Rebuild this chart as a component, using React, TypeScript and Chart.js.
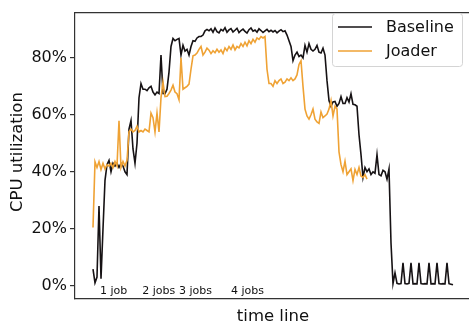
import React, { useEffect, useRef } from "react";
import { Chart, registerables } from "chart.js";
Chart.register(...registerables);

// CPU utilization (%) sampled along the time line
const baseline = [
  5.8, 1.0, 3, 28, 2.4, 20, 37, 42.5, 44, 40,
  43, 42, 43, 41.5, 43, 42, 40, 39, 55, 58,
  48, 43, 50, 66, 71, 69, 69, 68.5, 69.5, 70,
  68, 67, 68, 67.5, 81, 67.5, 67.4, 69, 75, 84,
  86.8, 86, 86.5, 86.8, 81, 84.4, 82.4, 83, 81, 84,
  86, 85.8, 87, 87.5, 87.5, 88, 89.5, 90,
  89.5, 90.2, 89, 90.5, 89.2, 88.8, 90, 89.5, 90.6, 89,
  89.8, 90.3, 89.1, 89.7, 90.4, 88.9, 89.6, 90.1, 89.3, 88.7,
  89.9, 90.5, 89.4, 89.8, 89, 90.2, 89.6, 88.9, 89.5, 90,
  89.2, 89.7, 89.1, 89.6, 88.8, 89.4, 89.9, 89.2, 89.5,
  88, 86, 84,
  79, 81, 82, 80.5, 81, 80, 84.4, 82, 85, 83,
  82.4, 83, 84.4, 82, 81.7, 83.4, 81, 72, 65, 63,
  64.5, 64.7, 63, 64, 66.4, 64, 64, 66, 64.5, 67.4,
  63.7, 63.5, 63, 53, 46, 38, 41.5, 40, 41, 39,
  40, 39.5, 46, 39, 38.6, 40.5, 40, 37.4, 41, 15,
  0.7, 4.5, 0.8, 0.6, 0.7, 8, 0.7, 0.6, 0.8, 8,
  0.6, 0.7, 0.6, 8, 0.7, 0.6, 0.7, 0.6, 8, 0.6,
  0.7, 0.6, 8, 0.7, 0.6, 0.7, 0.6, 8, 0.7, 0.5, 0.3,
];

const joader = [
  20.4, 43.5, 41.5, 43.6, 40.8, 43, 41, 42.5, 42, 43,
  41.5, 43.6, 42, 57.9, 41.5, 43.6, 42, 44, 54, 55,
  54, 54.5, 56, 54, 54.5, 54, 55, 54.5, 54, 60.6,
  59, 54, 60.6, 54, 66, 71.5, 66.4, 66.5, 67.5, 68.7,
  70.4, 68, 67.4, 65.3, 80, 69, 69.5, 70, 70.8, 76,
  80.7, 81, 81.7, 83, 84, 81, 82, 83.4, 82.7,
  81.5, 82.5, 81.8, 83, 82, 82.8, 81.5, 83.5, 82.5, 84,
  83, 84.5, 82.8, 84, 83.5, 85, 84, 85.5, 84.2, 86,
  85, 86.5, 85.5, 87, 86.5, 87.5, 87,
  87.5, 76, 71, 71, 70, 72, 71, 72, 72.6, 71, 71.5, 72.6, 72, 73,
  72, 72.6, 74, 77.7, 79, 70, 62, 59.6, 58.5, 60,
  62, 58.5, 57.5, 57, 61, 59, 59.6, 60.3, 62, 65,
  59.6, 63, 62, 47, 42.5, 40, 43.7, 39, 40, 41,
  36.9, 40.8, 39, 41.5, 38.5, 38, 39, 37.4,
];

const yTicks = [0, 20, 40, 60, 80];
const seriesNames = ["Baseline", "Joader"];
const seriesColors = ["#161214", "#efa234"];
const jobLabels = ["1 job", "2 jobs", "3 jobs", "4 jobs"];
const jobPositions = [3.5, 24.6, 43, 69];
const jobLabelValue = -2.95;

const FONT = "'DejaVu Sans', sans-serif";

export default function App() {
  const ref = useRef<HTMLCanvasElement>(null);

  useEffect(() => {
    if (!ref.current) return;

    const overlay = {
      id: "overlay",
      afterDraw(chart: any) {
        const { ctx, chartArea: a, scales } = chart;
        ctx.save();
        // top spine
        ctx.strokeStyle = "#333";
        ctx.lineWidth = 1.2;
        ctx.beginPath();
        ctx.moveTo(a.left, a.top);
        ctx.lineTo(a.right, a.top);
        ctx.stroke();

        // job annotations
        ctx.fillStyle = "#111";
        ctx.font = `11px ${FONT}`;
        ctx.textAlign = "left";
        ctx.textBaseline = "alphabetic";
        jobLabels.forEach((t, k) => {
          ctx.fillText(
            t,
            scales.x.getPixelForValue(jobPositions[k]),
            scales.y.getPixelForValue(jobLabelValue)
          );
        });

        // axis titles
        ctx.font = `16.5px ${FONT}`;
        ctx.textAlign = "center";
        ctx.textBaseline = "middle";
        ctx.fillText("time line", 273, 317);
        ctx.save();
        ctx.translate(18, 152);
        ctx.rotate(-Math.PI / 2);
        ctx.fillText("CPU utilization", 0, 0);
        ctx.restore();

        // legend
        const lx = 332.5, ly = 13.5, lw = 130, lh = 53;
        ctx.beginPath();
        ctx.roundRect(lx, ly, lw, lh, 3);
        ctx.fillStyle = "rgba(255,255,255,0.8)";
        ctx.fill();
        ctx.strokeStyle = "#d4d4d4";
        ctx.lineWidth = 1;
        ctx.stroke();
        ctx.font = `16px ${FONT}`;
        ctx.textAlign = "left";
        ctx.textBaseline = "middle";
        seriesNames.forEach((n, k) => {
          const yy = 27 + k * 24;
          ctx.strokeStyle = seriesColors[k];
          ctx.lineWidth = 1.6;
          ctx.beginPath();
          ctx.moveTo(338, yy);
          ctx.lineTo(372, yy);
          ctx.stroke();
          ctx.fillStyle = "#111";
          ctx.fillText(n, 386, yy + 1);
        });
        ctx.restore();
      },
    };

    const chart = new Chart(ref.current, {
      type: "line",
      data: {
        datasets: [
          {
            label: seriesNames[0],
            data: baseline.map((v, i) => ({ x: i, y: v })),
            borderColor: seriesColors[0],
            borderWidth: 1.6,
            pointRadius: 0,
            tension: 0,
            order: 1,
          },
          {
            label: seriesNames[1],
            data: joader.map((v, i) => ({ x: i, y: v })),
            borderColor: seriesColors[1],
            borderWidth: 1.6,
            pointRadius: 0,
            tension: 0,
            order: 0,
          },
        ],
      },
      options: {
        animation: false,
        responsive: false,
        devicePixelRatio: 1,
        layout: { padding: { top: 5, left: 0, right: 0, bottom: 0 } },
        plugins: { legend: { display: false }, tooltip: { enabled: false } },
        scales: {
          x: {
            type: "linear",
            min: -9,
            max: 188,
            ticks: { display: false },
            grid: { display: false },
            border: { display: true, color: "#333", width: 1.2 },
            afterFit: (s: any) => {
              s.height = 30;
            },
          },
          y: {
            type: "linear",
            min: -4.69,
            max: 95.9,
            afterBuildTicks: (s: any) => {
              s.ticks = yTicks.map((v) => ({ value: v }));
            },
            afterFit: (s: any) => {
              s.width = 75;
            },
            ticks: {
              callback: (v: any) => `${v}%`,
              font: { family: FONT, size: 16 },
              color: "#111",
              padding: 3,
            },
            grid: {
              drawOnChartArea: false,
              drawTicks: true,
              tickLength: 5,
              color: "#333",
              lineWidth: 1.2,
            },
            border: { display: true, color: "#333", width: 1.2 },
          },
        },
      },
      plugins: [overlay],
    });

    return () => chart.destroy();
  }, []);

  return (
    <div style={{ position: "absolute", left: 0, top: 0, width: 469, height: 329 }}>
      <canvas ref={ref} width={469} height={329} style={{ width: 469, height: 329, display: "block" }} />
    </div>
  );
}
